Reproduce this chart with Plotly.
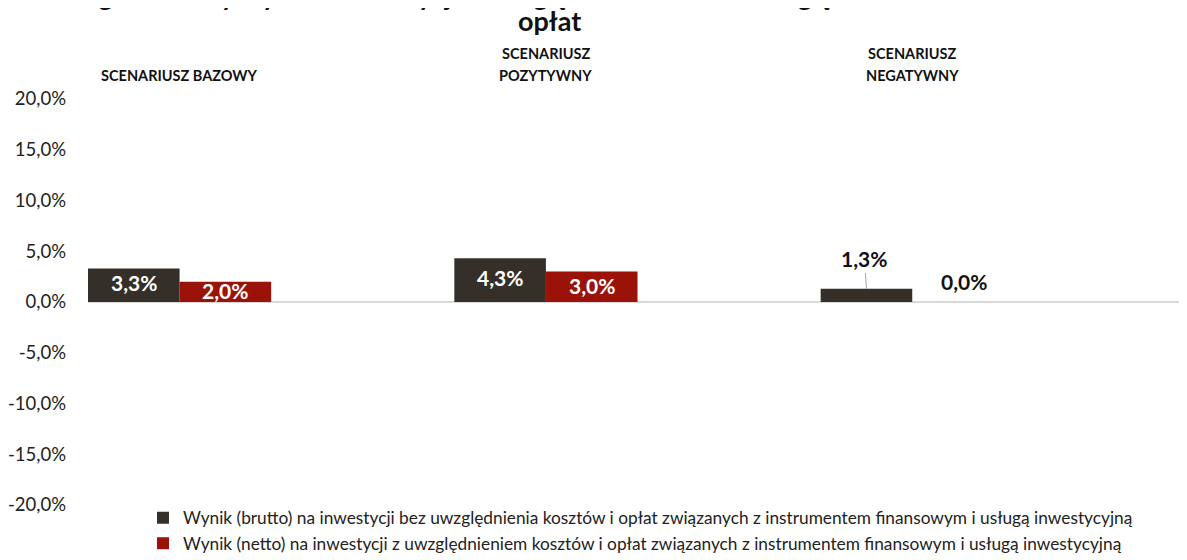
import plotly.graph_objects as go

# ---- data ----
scenarios = ["SCENARIUSZ BAZOWY", "SCENARIUSZ POZYTYWNY", "SCENARIUSZ NEGATYWNY"]
scenario_lines = [["SCENARIUSZ BAZOWY"], ["SCENARIUSZ", "POZYTYWNY"], ["SCENARIUSZ", "NEGATYWNY"]]
brutto = [0.033, 0.043, 0.013]
netto = [0.020, 0.030, 0.000]
brutto_name = "Wynik (brutto) na inwestycji bez uwzględnienia kosztów i opłat związanych z instrumentem finansowym i usługą inwestycyjną"
netto_name = "Wynik (netto) na inwestycji z uwzględnieniem kosztów i opłat związanych z instrumentem finansowym i usługą inwestycyjną"
title_line1 = "Prognozowany wynik z inwestycji z uwzględnieniem i bez uwzględnienia kosztów i"
title_line2 = "opłat"
y_ticks = [-0.20, -0.15, -0.10, -0.05, 0.0, 0.05, 0.10, 0.15, 0.20]

DARK = "#342F29"
RED = "#9B1209"
FONT = "Lato"

# the page body adds an 8px offset; figure is sized to fill the rest of the window
W, H = 1179, 552

def fmt(v):
    return f"{v*100:.1f}%".replace(".", ",")

fig = go.Figure()
fig.add_trace(go.Bar(
    x=scenarios, y=brutto, name=brutto_name, offset=-0.5, width=0.25,
    marker=dict(color=DARK, line=dict(width=0)),
    legendgroup="a", hoverinfo="skip",
))
fig.add_trace(go.Bar(
    x=scenarios, y=netto, name=netto_name, offset=-0.25, width=0.25,
    marker=dict(color=RED, line=dict(width=0)),
    legendgroup="b", hoverinfo="skip",
))

annotations = []
# data labels
for i, v in enumerate(brutto):
    if v >= 0.02:
        annotations.append(dict(x=i - 0.375, y=v / 2, xref="x", yref="y", text=f"<b>{fmt(v)}</b>",
                                showarrow=False, font=dict(family=FONT, size=21, color="white"),
                                yshift=3))
    else:
        annotations.append(dict(x=i - 0.375, y=v, xref="x", yref="y", text=f"<b>{fmt(v)}</b>",
                                showarrow=True, arrowhead=0, arrowwidth=1, arrowcolor="#a6a6a6",
                                ax=-2, ay=-30, standoff=0,
                                font=dict(family=FONT, size=21, color="#111111")))
for i, v in enumerate(netto):
    if v >= 0.02:
        annotations.append(dict(x=i - 0.125, y=v / 2, xref="x", yref="y", text=f"<b>{fmt(v)}</b>",
                                showarrow=False, font=dict(family=FONT, size=21, color="white"),
                                yshift=1))
    else:
        annotations.append(dict(x=i - 0.125, y=v, xref="x", yref="y", text=f"<b>{fmt(v)}</b>",
                                showarrow=False, font=dict(family=FONT, size=21, color="#111111"),
                                xshift=6, yshift=21))

# scenario headers
def py2paper(py):
    return (505 - py) / 406.0

for i, lines in enumerate(scenario_lines):
    if len(lines) == 1:
        ys = [76]
    else:
        ys = [53, 76]
    for line, ypx in zip(lines, ys):
        annotations.append(dict(x=i - 0.25, xref="x", y=py2paper(ypx), yref="paper", text=f"<b>{line}</b>",
                                showarrow=False, yanchor="middle",
                                font=dict(family=FONT, size=14.5, color="#111111")))

# title (first line partially out of view)
annotations.append(dict(x=0.4195, xref="paper", y=py2paper(20), yref="paper", text=f"<b>{title_line2}</b>",
                        showarrow=False, yanchor="middle", font=dict(family=FONT, size=27, color="#111111")))
annotations.append(dict(x=0.4195, xref="paper", y=py2paper(-5), yref="paper", text=f"<b>{title_line1}</b>",
                        showarrow=False, yanchor="middle", font=dict(family=FONT, size=27, color="#111111")))

fig.update_layout(
    width=W, height=H,
    margin=dict(l=80, r=0, t=91, b=55, autoexpand=False),
    paper_bgcolor="white", plot_bgcolor="white",
    barmode="overlay",
    showlegend=True,
    legend=dict(
        orientation="v", xref="container", yref="container",
        x=135 / W, y=1 - 492 / H, xanchor="left", yanchor="top",
        font=dict(family=FONT, size=17.3, color="#222222"),
        tracegroupgap=25, traceorder="normal",
        bgcolor="rgba(0,0,0,0)",
    ),
    annotations=annotations,
    font=dict(family=FONT, color="#222222"),
)
fig.update_xaxes(
    range=[-0.5, 2.5], showticklabels=False, showgrid=False, showline=False, zeroline=False,
    ticks="",
)
fig.update_yaxes(
    range=[-0.2, 0.2], tickvals=y_ticks, ticktext=[fmt(v) for v in y_ticks], showgrid=False, showline=False,
    zeroline=True, zerolinecolor="#D9D9D9", zerolinewidth=2,
    tickfont=dict(family=FONT, size=18.5, color="#222222"), ticks="", ticklabelstandoff=21,
)

fig.write_html("out.html")
